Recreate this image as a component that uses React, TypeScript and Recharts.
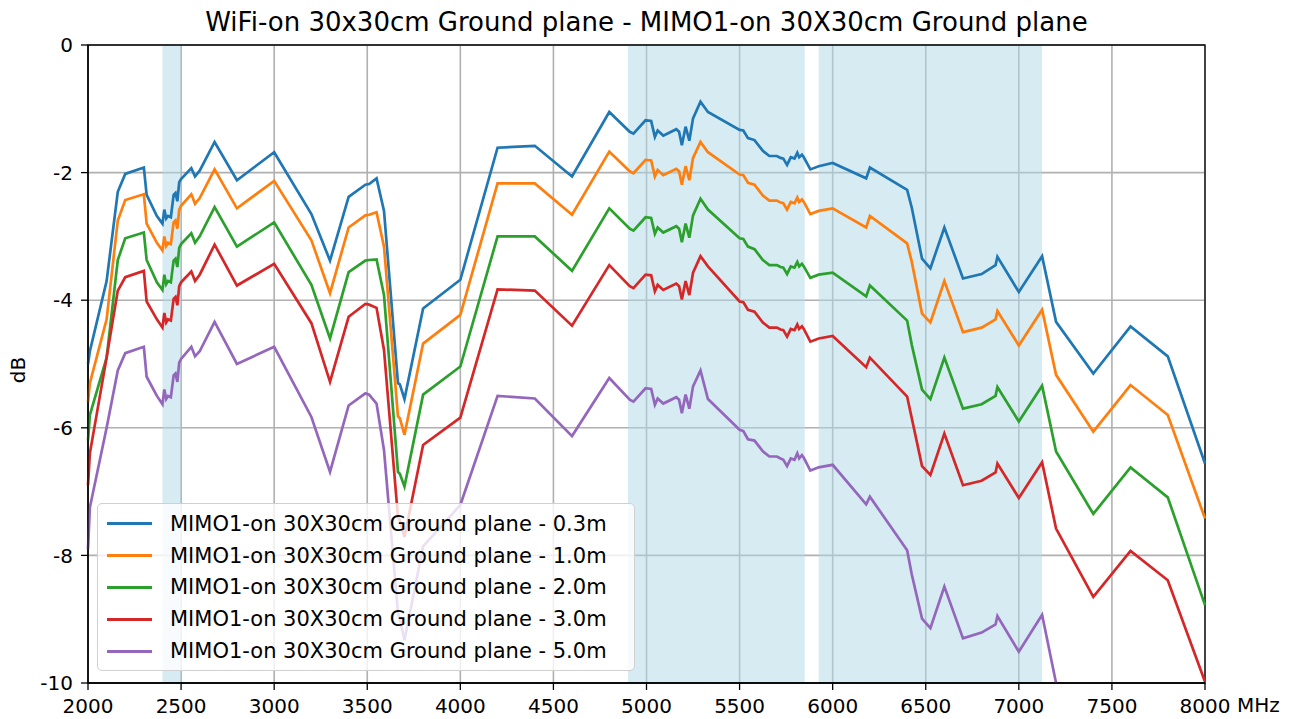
import React from 'react'
import {
  LineChart,
  Line,
  XAxis,
  YAxis,
  CartesianGrid,
  ReferenceArea,
} from 'recharts'

// frequency points (MHz), shared by every measurement
const freqs = [
  2000, 2010, 2100, 2160, 2200, 2300, 2315, 2370, 2400, 2410, 2420, 2430, 2445, 2460, 2470, 2480, 2490, 2500,
  2555, 2575, 2600, 2680, 2800, 3000, 3200, 3300, 3400, 3490, 3510, 3550, 3590, 3665, 3675, 3700, 3800, 4000,
  4200, 4400, 4600, 4800, 4910, 4930, 4995, 5025, 5045, 5060, 5090, 5160, 5175, 5190, 5210, 5230, 5250, 5290,
  5330, 5500, 5520, 5545, 5580, 5625, 5660, 5700, 5720, 5735, 5755, 5775, 5795, 5810, 5820, 5835, 5845, 5880,
  5925, 6000, 6180, 6200, 6400, 6425, 6480, 6525, 6600, 6700, 6800, 6875, 6885, 7000, 7125, 7200, 7400, 7600,
  7800, 8000,
]

const d03 = [
  -5.0, -4.8, -3.7, -2.3, -2.02, -1.92, -2.35, -2.68, -2.8, -2.58, -2.72, -2.68, -2.7, -2.35, -2.32, -2.45, -2.15, -2.1,
  -1.93, -2.06, -1.97, -1.52, -2.12, -1.68, -2.65, -3.38, -2.38, -2.19, -2.18, -2.09, -2.6, -5.3, -5.32, -5.55, -4.13, -3.68,
  -1.61, -1.58, -2.06, -1.05, -1.36, -1.39, -1.18, -1.19, -1.44, -1.34, -1.42, -1.32, -1.36, -1.57, -1.28, -1.5, -1.15, -0.89,
  -1.05, -1.33, -1.34, -1.46, -1.49, -1.66, -1.74, -1.74, -1.77, -1.78, -1.88, -1.76, -1.78, -1.69, -1.76, -1.72, -1.76, -1.95,
  -1.9, -1.85, -2.09, -1.92, -2.27, -2.55, -3.35, -3.5, -2.86, -3.66, -3.59, -3.45, -3.32, -3.87, -3.31, -4.34, -5.15, -4.41,
  -4.88, -6.56,
]

const d10 = [
  -5.6, -5.3, -4.3, -2.75, -2.43, -2.34, -2.8, -3.1, -3.22, -3.0, -3.15, -3.1, -3.12, -2.78, -2.75, -2.88, -2.58, -2.52,
  -2.34, -2.49, -2.4, -1.95, -2.56, -2.13, -3.06, -3.89, -2.86, -2.67, -2.66, -2.62, -3.16, -5.82, -5.85, -6.11, -4.68, -4.23,
  -2.17, -2.17, -2.66, -1.67, -1.98, -2.01, -1.8, -1.81, -2.06, -1.96, -2.04, -1.94, -1.98, -2.19, -1.9, -2.12, -1.77, -1.52,
  -1.68, -2.03, -2.04, -2.16, -2.19, -2.36, -2.44, -2.44, -2.47, -2.48, -2.58, -2.46, -2.48, -2.39, -2.46, -2.42, -2.46, -2.65,
  -2.6, -2.56, -2.86, -2.68, -3.11, -3.4, -4.21, -4.35, -3.7, -4.5, -4.43, -4.3, -4.17, -4.71, -4.15, -5.17, -6.06, -5.33,
  -5.8, -7.42,
]

const d20 = [
  -6.2, -5.8, -4.9, -3.37, -3.03, -2.94, -3.37, -3.72, -3.84, -3.6, -3.75, -3.7, -3.72, -3.38, -3.35, -3.48, -3.18, -3.12,
  -2.95, -3.1, -3.0, -2.54, -3.16, -2.78, -3.76, -4.6, -3.56, -3.38, -3.37, -3.36, -3.92, -6.69, -6.72, -6.92, -5.48, -5.04,
  -3.0, -3.0, -3.54, -2.56, -2.88, -2.91, -2.7, -2.71, -2.96, -2.86, -2.94, -2.84, -2.88, -3.09, -2.8, -3.02, -2.67, -2.41,
  -2.58, -3.03, -3.04, -3.16, -3.2, -3.37, -3.45, -3.45, -3.48, -3.49, -3.59, -3.47, -3.49, -3.4, -3.47, -3.43, -3.47, -3.65,
  -3.6, -3.57, -3.94, -3.77, -4.32, -4.7, -5.4, -5.55, -4.9, -5.7, -5.63, -5.5, -5.36, -5.9, -5.34, -6.37, -7.35, -6.62,
  -7.09, -8.78,
]

const d30 = [
  -6.9, -6.4, -4.9, -3.85, -3.64, -3.54, -4.02, -4.3, -4.43, -4.2, -4.35, -4.3, -4.32, -3.98, -3.95, -4.08, -3.78, -3.72,
  -3.55, -3.7, -3.6, -3.13, -3.77, -3.43, -4.36, -5.28, -4.26, -4.06, -4.07, -4.12, -4.78, -7.4, -7.45, -7.71, -6.27, -5.84,
  -3.83, -3.85, -4.4, -3.45, -3.78, -3.81, -3.6, -3.61, -3.86, -3.76, -3.84, -3.74, -3.78, -3.99, -3.7, -3.92, -3.57, -3.31,
  -3.47, -4.02, -4.03, -4.15, -4.18, -4.35, -4.43, -4.43, -4.46, -4.47, -4.57, -4.45, -4.47, -4.38, -4.45, -4.41, -4.45, -4.65,
  -4.6, -4.56, -5.05, -4.9, -5.51, -5.85, -6.6, -6.74, -6.09, -6.9, -6.83, -6.7, -6.56, -7.1, -6.54, -7.58, -8.65, -7.93,
  -8.39, -9.98,
]

const d50 = [
  -7.9, -7.25, -6.0, -5.1, -4.83, -4.73, -5.2, -5.5, -5.63, -5.4, -5.55, -5.5, -5.52, -5.18, -5.15, -5.28, -4.98, -4.92,
  -4.73, -4.88, -4.8, -4.34, -5.0, -4.73, -5.83, -6.69, -5.65, -5.46, -5.48, -5.62, -6.35, -8.9, -9.0, -9.33, -7.86, -7.21,
  -5.5, -5.54, -6.13, -5.22, -5.56, -5.59, -5.38, -5.39, -5.64, -5.54, -5.62, -5.52, -5.56, -5.77, -5.48, -5.7, -5.35, -5.1,
  -5.55, -6.03, -6.05, -6.18, -6.2, -6.37, -6.45, -6.45, -6.48, -6.5, -6.6, -6.48, -6.5, -6.4, -6.48, -6.43, -6.47, -6.67,
  -6.62, -6.58, -7.2, -7.08, -7.92, -8.3, -8.99, -9.14, -8.49, -9.3, -9.21, -9.08, -8.95, -9.51, -8.93, -10.0, -11.05, -10.35,
  -10.8, -12.4,
]

const seriesNames = [
  'MIMO1-on 30X30cm Ground plane - 0.3m',
  'MIMO1-on 30X30cm Ground plane - 1.0m',
  'MIMO1-on 30X30cm Ground plane - 2.0m',
  'MIMO1-on 30X30cm Ground plane - 3.0m',
  'MIMO1-on 30X30cm Ground plane - 5.0m',
]
const colors = ['#1f77b4', '#ff7f0e', '#2ca02c', '#d62728', '#9467bd']
const seriesValues = [d03, d10, d20, d30, d50]

// shaded bands [from, to] in MHz
const bands = [
  [2400, 2500],
  [4900, 5850],
  [5925, 7125],
]

const xTicks = [2000, 2500, 3000, 3500, 4000, 4500, 5000, 5500, 6000, 6500, 7000, 7500, 8000]
const yTicks = [-10, -8, -6, -4, -2, 0]

const data = freqs.map((f, i) => {
  const row: Record<string, number> = { f }
  seriesValues.forEach((vals, k) => {
    row['s' + k] = vals[i]
  })
  return row
})

const font = 'DejaVu Sans, sans-serif'
const tickStyle = { fontSize: 20, fill: '#000', fontFamily: font }

export default function App() {
  return (
    <div style={{ position: 'absolute', left: 0, top: 0, width: 1303, height: 719, background: '#fff' }}>
      <div
        style={{
          position: 'absolute',
          left: 88,
          width: 1117,
          top: 5,
          textAlign: 'center',
          fontFamily: font,
          fontSize: 26,
          lineHeight: '34px',
          color: '#000',
          whiteSpace: 'nowrap',
        }}
      >
        WiFi-on 30x30cm Ground plane - MIMO1-on 30X30cm Ground plane
      </div>
      <LineChart
        width={1303}
        height={719}
        data={data}
        margin={{ top: 45, right: 98, bottom: 0, left: 0 }}
      >
        {bands.map(([a, b]) => (
          <ReferenceArea key={a} x1={a} x2={b} y1={-10} y2={0} fill="#add8e6" fillOpacity={0.5} stroke="none" />
        ))}
        <CartesianGrid stroke="#b0b0b0" strokeWidth={1.6} />
        <XAxis
          dataKey="f"
          type="number"
          domain={[2000, 8000]}
          ticks={xTicks}
          height={36}
          tick={tickStyle}
          tickSize={7}
          tickMargin={9}
          axisLine={{ stroke: '#000', strokeWidth: 1.3 }}
          tickLine={{ stroke: '#000', strokeWidth: 1.3 }}
        />
        <YAxis
          type="number"
          domain={[-10, 0]}
          ticks={yTicks}
          allowDataOverflow
          width={88}
          tick={tickStyle}
          tickSize={7}
          tickMargin={8}
          axisLine={{ stroke: '#000', strokeWidth: 1.3 }}
          tickLine={{ stroke: '#000', strokeWidth: 1.3 }}
        />
        {seriesValues.map((_, k) => (
          <Line
            key={k}
            type="linear"
            dataKey={'s' + k}
            name={seriesNames[k]}
            stroke={colors[k]}
            strokeWidth={2.7}
            dot={false}
            activeDot={false}
            isAnimationActive={false}
          />
        ))}
        <ReferenceArea x1={2000} x2={8000} y1={-10} y2={0} fill="none" stroke="#000" strokeWidth={1.3} />
      </LineChart>
      <div
        style={{
          position: 'absolute',
          left: 1237,
          top: 692,
          fontFamily: font,
          fontSize: 20,
          lineHeight: '26px',
          color: '#000',
        }}
      >
        MHz
      </div>
      <div
        style={{
          position: 'absolute',
          left: 18,
          top: 370,
          transform: 'translate(-50%, -50%) rotate(-90deg)',
          fontFamily: font,
          fontSize: 20,
          color: '#000',
        }}
      >
        dB
      </div>
      <div
        style={{
          position: 'absolute',
          left: 97,
          top: 503,
          width: 538,
          height: 168,
          boxSizing: 'border-box',
          border: '1.3px solid #d0d0d0',
          borderRadius: 5,
          background: 'rgba(255,255,255,0.8)',
          paddingTop: 4,
        }}
      >
        {seriesNames.map((n, k) => (
          <div key={n} style={{ display: 'flex', alignItems: 'center', height: 31.8 }}>
            <div style={{ marginLeft: 9, width: 45, height: 3, background: colors[k] }} />
            <span style={{ marginLeft: 18, fontFamily: font, fontSize: 21, color: '#000', whiteSpace: 'nowrap' }}>
              {n}
            </span>
          </div>
        ))}
      </div>
    </div>
  )
}
